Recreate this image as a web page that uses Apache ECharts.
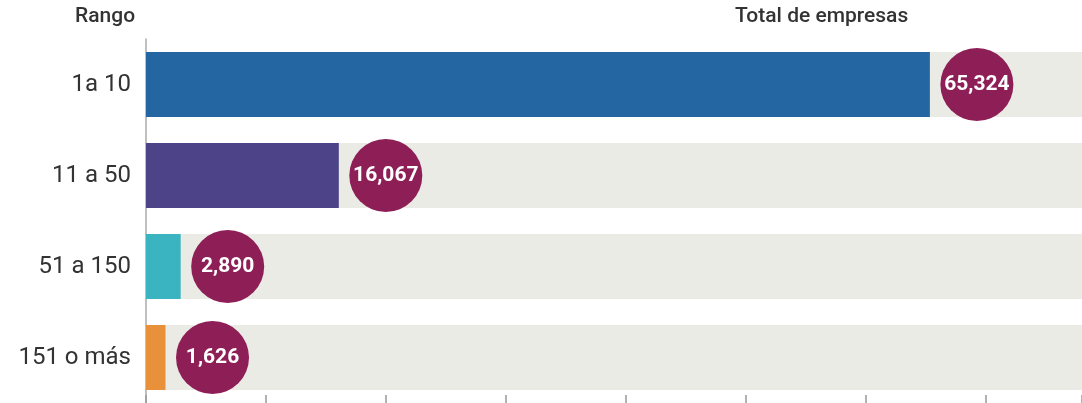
<!DOCTYPE html>
<html><head><meta charset="utf-8">
<script src="https://cdn.jsdelivr.net/npm/echarts@6/dist/echarts.min.js"></script>
<style>html,body{margin:0;padding:0;background:#fff}#c{width:1082px;height:403px}</style>
</head><body><div id="c"></div>
<script>
var categories = ['1a 10', '11 a 50', '51 a 150', '151 o más'];
var values = [65324, 16067, 2890, 1626];
var barColors = ['#2466A1', '#4C4388', '#3BB4C2', '#E8913A'];
var axisMax = 78000;
var tickStep = 10000;
var backgroundValues = categories.map(function(){ return axisMax; });

var chart = echarts.init(document.getElementById('c'));
chart.setOption({
  animation: false,
  grid: { left: 146, top: 39, height: 364, right: 0, containLabel: false },
  graphic: [
    { type: 'text', left: 75, top: 6, style: { text: 'Rango', font: '500 21px Roboto', fill: '#333' } },
    { type: 'text', left: 735, top: 6, style: { text: 'Total de empresas', font: '500 21px Roboto', fill: '#333' } }
  ],
  xAxis: {
    type: 'value', min: 0, max: axisMax, interval: tickStep,
    axisLine: { show: false },
    axisTick: { show: true, inside: true, length: 8, lineStyle: { color: '#999', width: 1.5 } },
    axisLabel: { show: false },
    splitLine: { show: false }
  },
  yAxis: {
    type: 'category', data: categories, inverse: true,
    axisLine: { show: true, lineStyle: { color: '#aaa', width: 1.5 } },
    axisTick: { show: false },
    axisLabel: { fontFamily: 'Roboto', fontSize: 24, color: '#333', margin: 15 }
  },
  series: [
    { type: 'bar', data: backgroundValues, barWidth: 65, barGap: '-100%', silent: true,
      itemStyle: { color: '#EBEBE6' }, z: 1 },
    { type: 'bar', data: values.map(function(v, i){ return { value: v, itemStyle: { color: barColors[i] } }; }),
      barWidth: 65, z: 2 },
    { type: 'scatter', data: values, symbol: 'circle', symbolSize: 73, symbolOffset: [47, 0],
      itemStyle: { color: '#8E1E56', opacity: 1 }, z: 3,
      label: { show: true, position: 'inside', color: '#fff', fontWeight: 'bold',
        fontFamily: 'Roboto', fontSize: 21,
        formatter: function(p){ return p.value.toLocaleString('en-US'); } } }
  ]
});
</script></body></html>
